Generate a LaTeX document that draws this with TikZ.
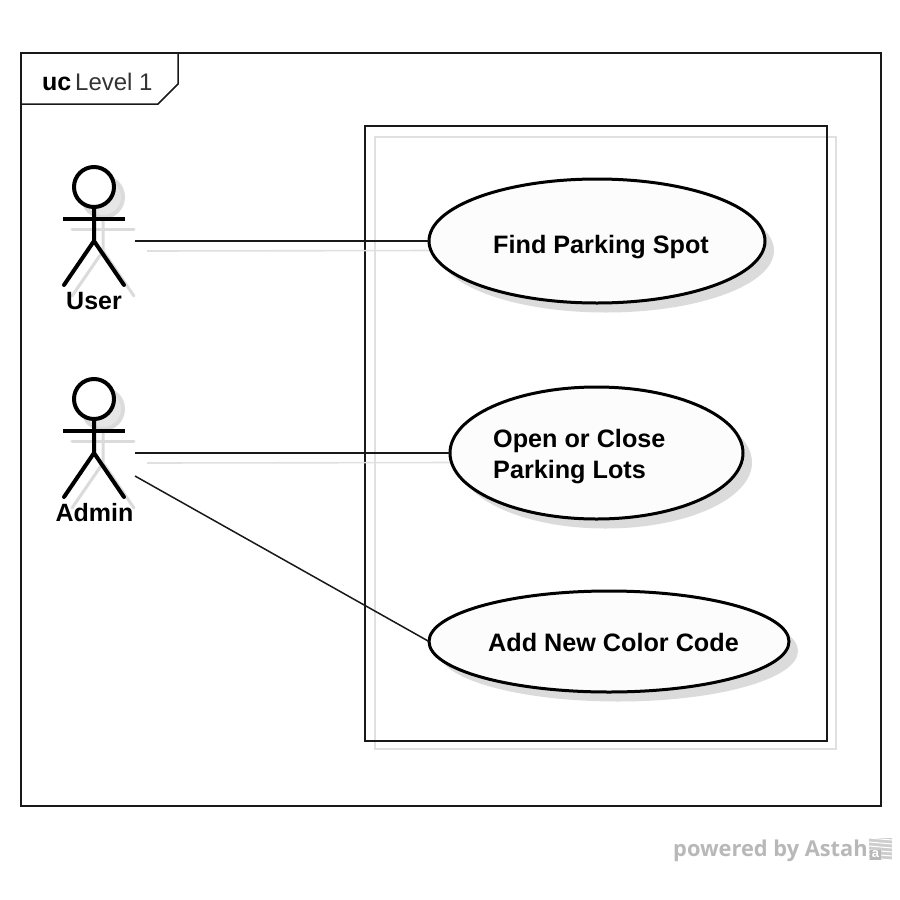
\documentclass[tikz,border=0pt]{standalone}
\usepackage{fontspec}
\setmainfont{Liberation Sans}
\newfontfamily\astahfont{Open Sans}
\usetikzlibrary{shapes.geometric}
\definecolor{shadowgray}{gray}{0.86}
\definecolor{softgray}{gray}{0.88}
\definecolor{brandgray}{gray}{0.72}
\tikzset{
  x=1pt,y=-1pt,
  frameline/.style={draw=black!90,line width=1.5pt},
  softline/.style={draw=softgray,line width=1.6pt},
  assoc/.style={draw=black!90,line width=1.5pt},
  usecase/.style={ellipse,draw=black,line width=3pt,fill=black!1,inner sep=0pt,outer sep=0pt},
  useshadow/.style={ellipse,fill=shadowgray,draw=none,inner sep=0pt,outer sep=0pt},
  lbl/.style={font=\fontsize{25.2}{31}\selectfont\bfseries,text=black,inner sep=0pt,anchor=base west},
  actorlbl/.style={font=\fontsize{25}{30}\selectfont\bfseries,text=black,inner sep=0pt,anchor=base},
  stick/.style={draw=black,line width=4pt,line cap=round},
  stickshadow/.style={draw=shadowgray,line width=3pt,line cap=round},
  headshadow/.style={draw=shadowgray,line width=4pt,fill=white}
}
\newcommand{\actorfig}[3]{%
  % #1 x of centre, #2 y of head centre, #3 name
  \begin{scope}[shift={(#1+9,#2+10)}]
    \draw[headshadow,fill=shadowgray!70] (0,0) circle (20);
    \draw[stickshadow] (-31,32) -- (31,32);
    \draw[stickshadow] (0,20) -- (0,54) (-31,99) -- (0,54) -- (31,99);
  \end{scope}
  \begin{scope}[shift={(#1,#2)}]
    \draw[stick,fill=white] (0,0) circle (20);
    \draw[stick,line cap=butt] (-31,32) -- (31,32);
    \draw[stick] (0,20) -- (0,54) (-30,98) -- (0,54) -- (30,98);
  \end{scope}
  \coordinate (#3) at (#1+41,#2+54);
  \coordinate (#3shade) at (#1+53,#2+64);
}
\begin{document}
\begin{tikzpicture}
\useasboundingbox[fill=white] (0,0) rectangle (900,900);

% diagram frame
\draw[frameline] (21,53) rectangle (881,806);
\node[font=\fontsize{25}{30}\selectfont\bfseries,inner sep=0pt,anchor=base west] (ucword) at (42,90) {uc};
\node[font=\fontsize{24}{30}\selectfont,text=black!80,inner sep=0pt,anchor=base west] (levelword) at (75,90) {Level 1};
\draw[frameline] (21,104) -- (158,104) -- (178,84) -- (178,53);

% system boundary
\draw[softline] (375,137) rectangle (836,749);
\draw[frameline] (365,126) rectangle (827,741);

% actors
\actorfig{94}{187}{user}
\actorfig{94}{399}{admin}
\node[actorlbl] (userlbl) at (94,309) {User};
\node[actorlbl] (adminlbl) at (94.5,521) {Admin};

% use case shadows
\node[useshadow,minimum width=336pt,minimum height=124pt] (findS) at (606,250.5) {};
\node[useshadow,minimum width=293pt,minimum height=132pt] (openS) at (605.5,462.5) {};
\node[useshadow,minimum width=360pt,minimum height=101pt] (addS) at (618,651) {};

% connector shadows
\draw[softline] (usershade) -- (findS.west);
\draw[softline] (adminshade) -- (openS.west);

% use cases
\node[usecase,minimum width=336pt,minimum height=124pt] (find) at (597,241) {};
\node[usecase,minimum width=293pt,minimum height=132pt] (open) at (596.5,453) {};
\node[usecase,minimum width=360pt,minimum height=101pt] (add) at (609,641.5) {};

% connectors
\draw[assoc] (user) -- (find.west);
\draw[assoc] (admin) -- (open.west);
\coordinate (adminlow) at (135,476);
\draw[assoc] (adminlow) -- (add.west);

% use case labels
\node[lbl] (findlbl) at (493,253) {Find Parking Spot};
\node[lbl,align=left,anchor=north west] (openlbl) at (493,429) {Open or Close\\Parking Lots};
\node[lbl] (addlbl) at (488,651) {Add New Color Code};

% watermark
\node[font=\astahfont\fontsize{21.8}{28}\selectfont\bfseries,text=brandgray,inner sep=0pt,anchor=base west] (brand) at (673,856) {powered by Astah};
\fill[brandgray!70] (869,838) rectangle (892,860);
\foreach \k in {0,4,...,20}{\draw[white,line width=1pt] (869,838+\k) -- (892,838+\k+2);}
\fill[brandgray] (870,850) rectangle (881,860);
\node[font=\fontsize{13}{13}\selectfont\bfseries,text=white,inner sep=0pt] (brandmark) at (875.5,854) {a};
\end{tikzpicture}
\end{document}
